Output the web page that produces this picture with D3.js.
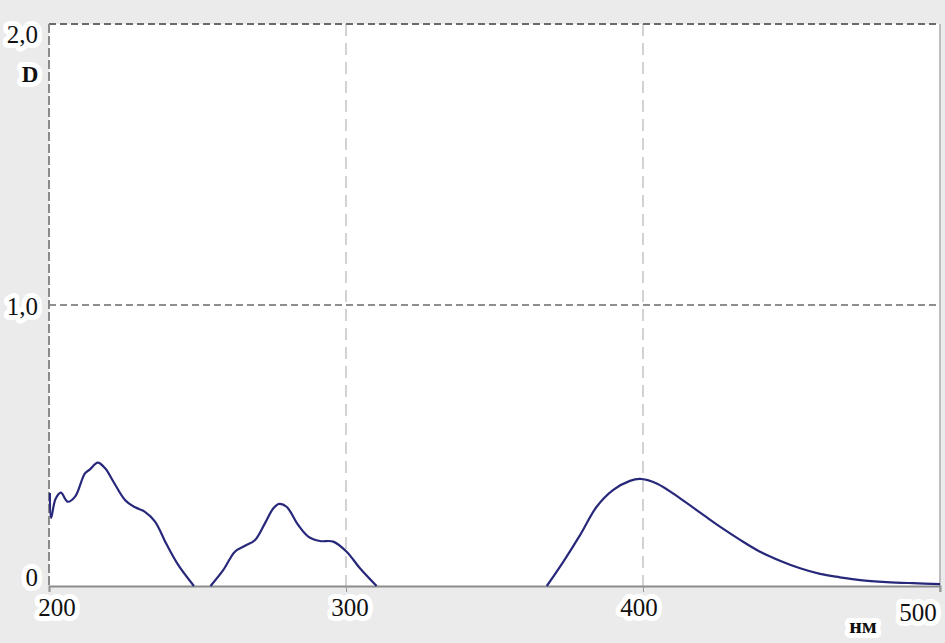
<!DOCTYPE html>
<html>
<head>
<meta charset="utf-8">
<script src="https://cdn.jsdelivr.net/npm/d3@7"></script>
<style>
  body { margin: 0; background: #ebebeb; }
  .lbl { font-family: "Liberation Serif", "Times New Roman", serif; fill: #111;
         paint-order: stroke; stroke: #fff; stroke-width: 10px; stroke-linejoin: round; }
</style>
</head>
<body>
<div id="grafico"></div>
<script>
// spectrum, three visible segments (null = below zero / clipped)
var wavelengths = [200.3, 200.7, 202.2, 204, 206.3, 208.8, 212.1, 213.8, 216.4, 218.9, 221.7, 225.6, 229, 232.3, 235.7, 239.5, 243.5, 248.8,
  251,
  254.4, 258.7, 262.6, 266, 269.4, 272.7, 275.5, 277.5, 280, 283.9, 287.3, 291.2, 295.7, 300.2, 304.7, 310.3,
  340,
  367.6, 373.2, 378.8, 384.4, 390, 395.6, 399, 404.6, 412.5, 420.3, 425.9, 432.7, 439.4, 446.1, 452.9, 459.6, 466.3, 473.1, 482, 491, 500];
var absorbance = [0.331, 0.242, 0.31, 0.332, 0.300, 0.318, 0.401, 0.415, 0.439, 0.419, 0.371, 0.306, 0.280, 0.264, 0.229, 0.150, 0.075, 0,
  null,
  0, 0.057, 0.122, 0.143, 0.164, 0.223, 0.276, 0.292, 0.282, 0.217, 0.176, 0.160, 0.158, 0.122, 0.063, 0,
  null,
  0, 0.087, 0.181, 0.282, 0.342, 0.374, 0.381, 0.365, 0.312, 0.253, 0.211, 0.164, 0.122, 0.090, 0.063, 0.043, 0.031, 0.021, 0.014, 0.010, 0.007];
var xTicks = [200, 300, 400, 500];
var yTicks = [0, 1, 2];
var yTickLabels = ["0", "1,0", "2,0"];

var svgWidth = 945, svgHeight = 643;
var margin = { top: 24, right: 5, bottom: 57, left: 49 };
var chartWidth = svgWidth - margin.left - margin.right;
var chartHeight = svgHeight - margin.top - margin.bottom;

var svg = d3.select("#grafico").append("svg")
  .attr("width", svgWidth).attr("height", svgHeight)
  .style("display", "block");

svg.append("rect").attr("width", svgWidth).attr("height", svgHeight).attr("fill", "#ebebeb");

var xScale = d3.scaleLinear().domain([200, 500]).range([0, chartWidth]);
var yScale = d3.scaleLinear().domain([0, 2]).range([chartHeight, 0]);

var chart = svg.append("g")
  .attr("transform", "translate(" + margin.left + "," + margin.top + ")");

chart.append("rect").attr("width", chartWidth).attr("height", chartHeight).attr("fill", "#fff");

// vertical grid (light dashed)
chart.selectAll(".vgrid").data([300, 400]).enter().append("line")
  .attr("x1", d => xScale(d)).attr("x2", d => xScale(d))
  .attr("y1", 0).attr("y2", chartHeight + 6)
  .attr("stroke", "#c8c8c8").attr("stroke-width", 1.6).attr("stroke-dasharray", "12,7");

// horizontal grid (darker dashed)
chart.selectAll(".hgrid").data([1, 2]).enter().append("line")
  .attr("x1", 0).attr("x2", chartWidth)
  .attr("y1", d => yScale(d)).attr("y2", d => yScale(d))
  .attr("stroke", "#6a6a6a").attr("stroke-width", d => d == 2 ? 2 : 1.4)
  .attr("stroke-dasharray", "7,4");

// left axis line (dashed) and right border
chart.append("line").attr("x1", 0).attr("x2", 0).attr("y1", 0).attr("y2", chartHeight)
  .attr("stroke", "#8a8a8a").attr("stroke-width", 2).attr("stroke-dasharray", "9,3");
chart.append("line").attr("x1", chartWidth).attr("x2", chartWidth).attr("y1", 0).attr("y2", chartHeight + 6)
  .attr("stroke", "#bdbdbd").attr("stroke-width", 2);

// bottom axis
var xAxis = d3.axisBottom(xScale).tickValues(xTicks).tickSize(6).tickFormat("");
var gx = chart.append("g").attr("transform", "translate(0," + chartHeight + ")").call(xAxis);
gx.select(".domain").attr("stroke", "#8c8c8c").attr("stroke-width", 2);
gx.selectAll(".tick line").attr("stroke", "#999");

// spectrum
var line = d3.line()
  .defined((d, i) => absorbance[i] !== null)
  .x((d, i) => xScale(wavelengths[i]))
  .y((d, i) => yScale(absorbance[i]))
  .curve(d3.curveCatmullRom.alpha(0.5));

chart.append("path").datum(wavelengths)
  .attr("d", line)
  .attr("fill", "none")
  .attr("stroke", "#27287a")
  .attr("stroke-width", 2.2);

// y labels
var yOff = [0, 10, 19];
svg.selectAll(".ylbl").data(yTicks).enter().append("text")
  .attr("class", "lbl")
  .attr("x", 38)
  .attr("y", (d, i) => margin.top + yScale(d) + yOff[i])
  .attr("text-anchor", "end")
  .style("font-size", "25px")
  .text((d, i) => yTickLabels[i]);

svg.append("text").attr("class", "lbl")
  .attr("x", 30).attr("y", 82).attr("text-anchor", "middle")
  .style("font-size", "23px").style("font-weight", "bold")
  .text("D");

// x labels
var xOff = [8, 4, -4, -22];
svg.selectAll(".xlbl").data(xTicks).enter().append("text")
  .attr("class", "lbl")
  .attr("x", (d, i) => margin.left + xScale(d) + xOff[i])
  .attr("y", (d, i) => i == 3 ? 621 : 616)
  .attr("text-anchor", "middle")
  .style("font-size", "25px")
  .text(d => d);

svg.append("text").attr("class", "lbl")
  .attr("x", 863).attr("y", 633).attr("text-anchor", "middle")
  .style("font-size", "22px").style("font-weight", "bold")
  .text("нм");
</script>
</body>
</html>
